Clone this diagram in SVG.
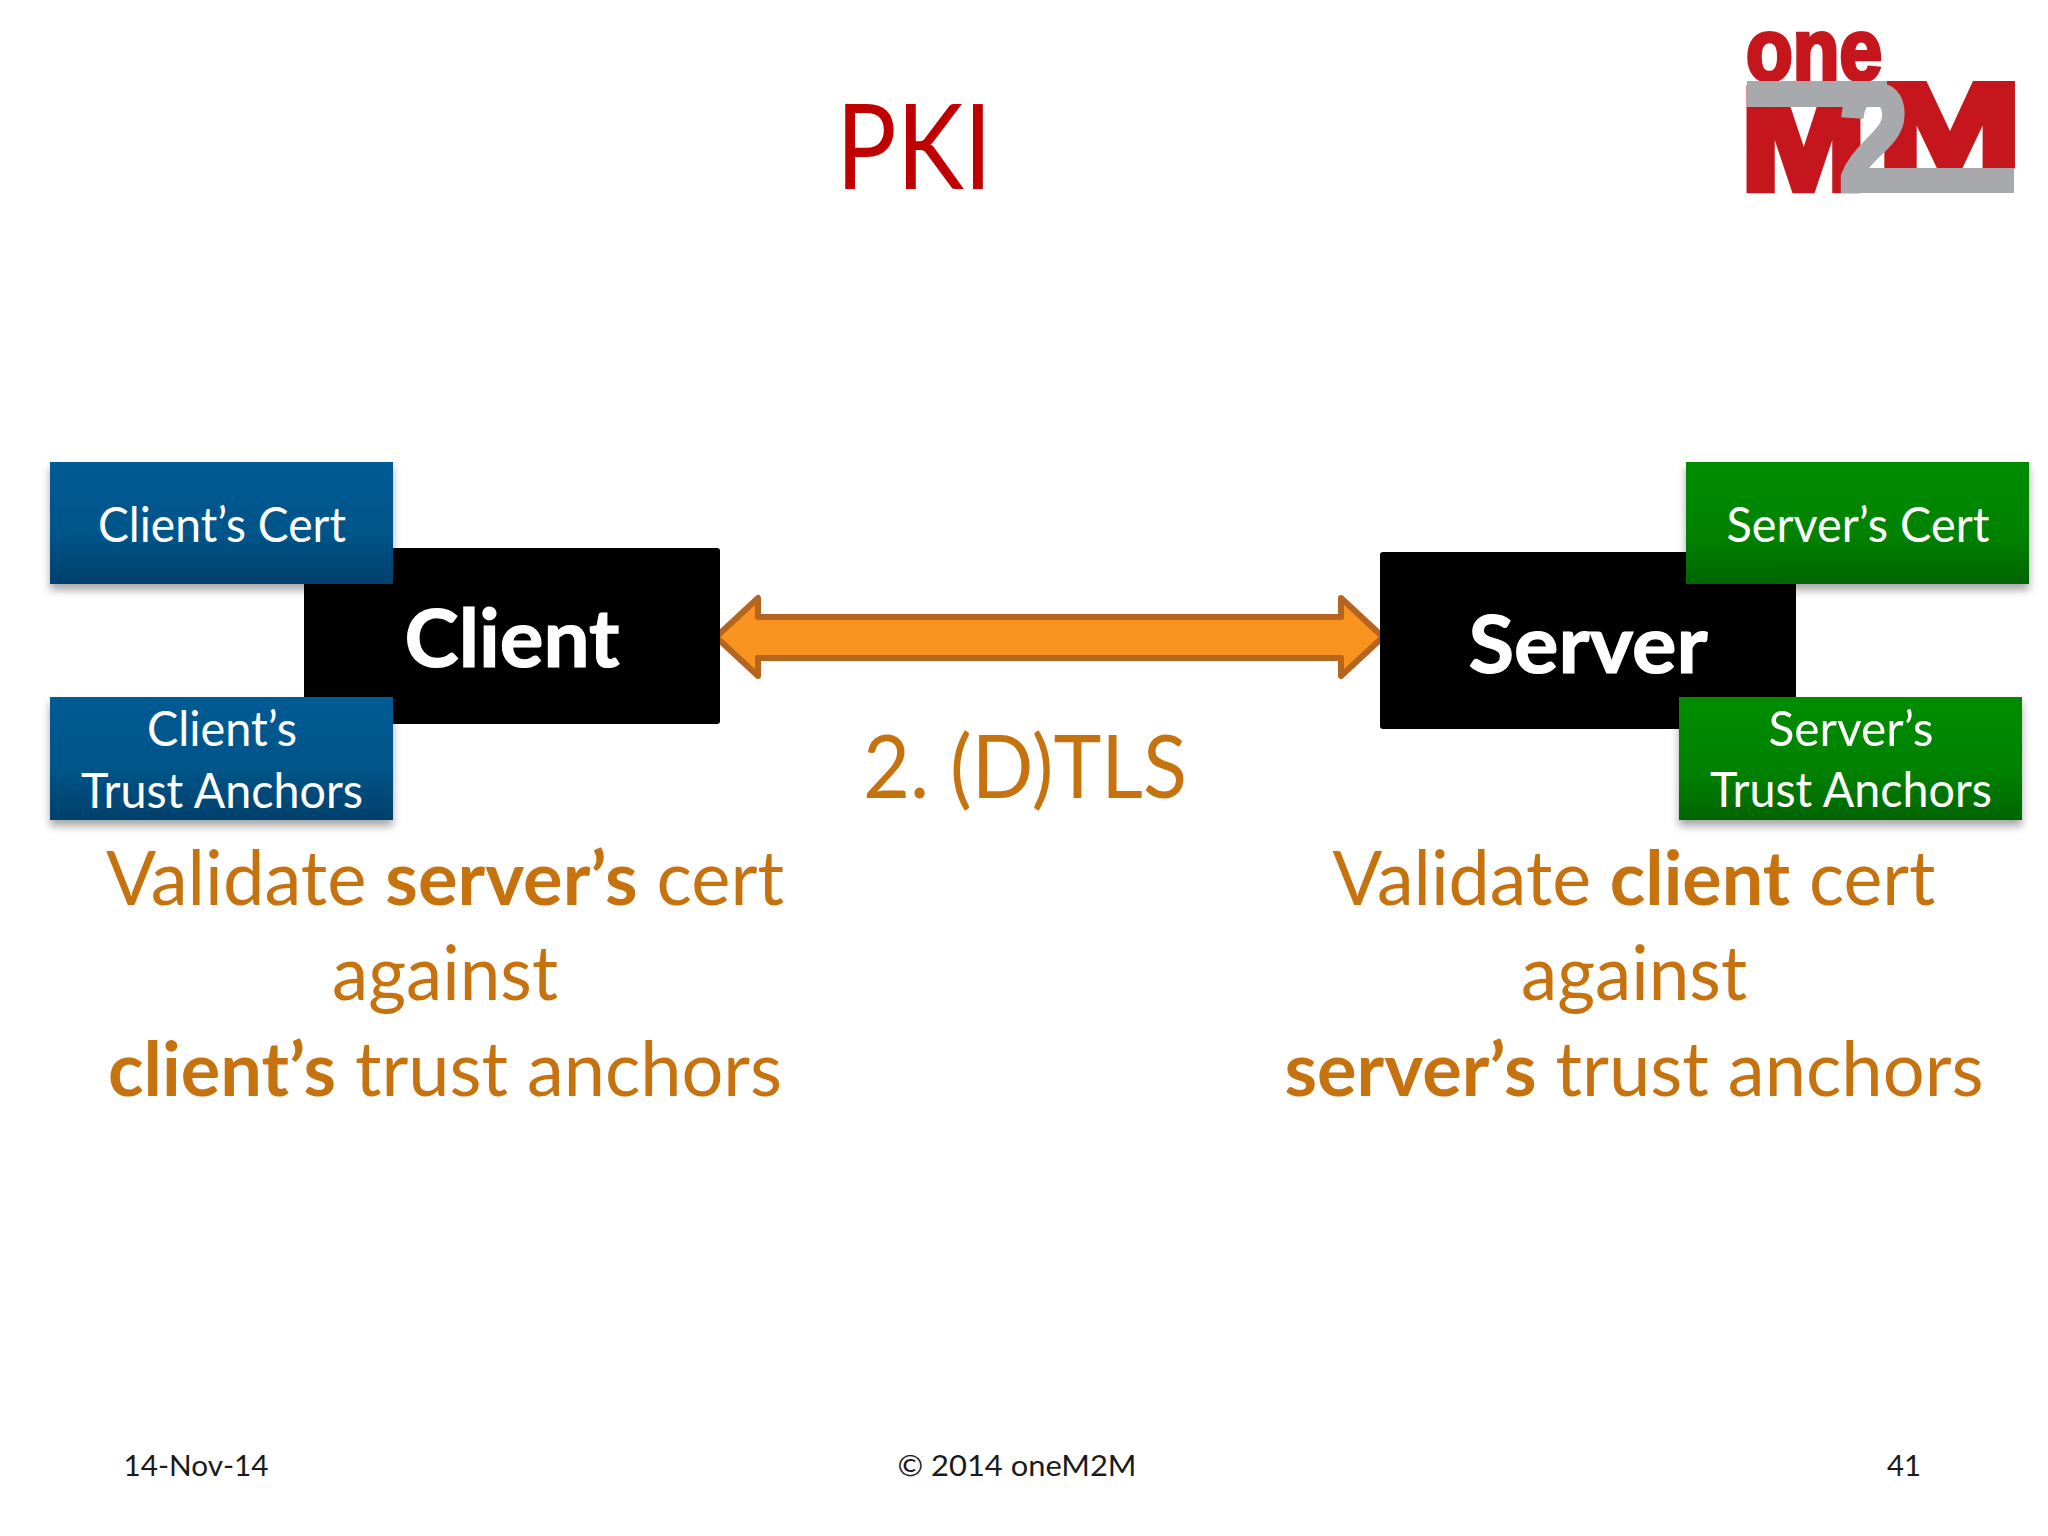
<svg xmlns="http://www.w3.org/2000/svg" width="2048" height="1536" viewBox="0 0 2048 1536">
<style>
text{font-family:"Lato","Carlito","Open Sans",sans-serif;text-anchor:middle}
.lbl{fill:#fff;font-size:49px}
.big{fill:#fff;font-size:80px;font-weight:700;stroke:#fff;stroke-width:1.2px}
.org{fill:#c6720f;font-size:75px}
.b{font-weight:700}
.foot{fill:#1a1a1a;font-size:29px}
.logo{font-family:"Liberation Sans",Arial,sans-serif;font-weight:700}
.box{stroke:none;filter:url(#sh)}
</style>
<defs>
<linearGradient id="blue" x1="0" y1="0" x2="0" y2="1"><stop offset="0" stop-color="#005b94"/><stop offset=".6" stop-color="#005488"/><stop offset="1" stop-color="#00406b"/></linearGradient>
<linearGradient id="green" x1="0" y1="0" x2="0" y2="1"><stop offset="0" stop-color="#008c06"/><stop offset=".6" stop-color="#008204"/><stop offset="1" stop-color="#006400"/></linearGradient>
<filter id="sh" x="-5%" y="-10%" width="110%" height="125%"><feDropShadow dx="0" dy="6" stdDeviation="4" flood-color="#000" flood-opacity=".35"/></filter>
</defs>
<rect width="2048" height="1536" fill="#fff"/>
<text id="title" x="914" y="189" font-size="118" fill="#c00000" textLength="156" lengthAdjust="spacingAndGlyphs">PKI</text>
<g id="logo">
<text class="logo" x="1814" y="80" font-size="88" fill="#c4161c" stroke="#c4161c" stroke-width="4" textLength="136" lengthAdjust="spacingAndGlyphs">one</text>
<text class="logo" font-size="100" fill="#c4161c" stroke="#c4161c" stroke-width="6" transform="translate(1741 188.7) scale(1.5 1.44)" style="text-anchor:start">M</text>
<text class="logo" font-size="100" fill="#c4161c" stroke="#c4161c" stroke-width="6" transform="translate(1878 164.5) scale(1.72 1.16)" style="text-anchor:start">M</text>
<rect x="1747" y="81" width="140" height="26" fill="#a7a9ac"/>
<rect x="1844" y="168" width="170" height="25" fill="#a7a9ac"/>
<text class="logo" font-size="100" fill="#a7a9ac" stroke="#a7a9ac" stroke-width="4" transform="translate(1839 190) scale(1.25 1.51)" style="text-anchor:start">2</text>
</g>
<g id="connectors">
<polygon points="716,637 758,598 758,617 1341,617 1341,598 1383,637 1341,676 1341,658 758,658 758,676" fill="#f7931e" stroke="#b5651d" stroke-width="6" stroke-linejoin="round"/>
</g>
<g id="client"><rect x="304" y="548" width="416" height="176" rx="3" fill="#000"/><text class="big" x="512" y="667" textLength="215" lengthAdjust="spacingAndGlyphs">Client</text></g>
<g id="server"><rect x="1380" y="552" width="416" height="177" rx="3" fill="#000"/><text class="big" x="1588" y="673" textLength="239" lengthAdjust="spacingAndGlyphs">Server</text></g>
<g id="client-cert"><rect class="box" x="50" y="462" width="343" height="122" fill="url(#blue)"/><text class="lbl" x="222" y="542" textLength="248" lengthAdjust="spacingAndGlyphs">Client’s Cert</text></g>
<g id="client-anchors"><rect class="box" x="50" y="697" width="343" height="123" fill="url(#blue)"/><text class="lbl" x="222" y="746" textLength="150" lengthAdjust="spacingAndGlyphs">Client’s</text><text class="lbl" x="222" y="808" textLength="282" lengthAdjust="spacingAndGlyphs">Trust Anchors</text></g>
<g id="server-cert"><rect class="box" x="1686" y="462" width="343" height="122" fill="url(#green)"/><text class="lbl" x="1858" y="542" textLength="263" lengthAdjust="spacingAndGlyphs">Server’s Cert</text></g>
<g id="server-anchors"><rect class="box" x="1679" y="697" width="343" height="123" fill="url(#green)"/><text class="lbl" x="1851" y="746" textLength="165" lengthAdjust="spacingAndGlyphs">Server’s</text><text class="lbl" x="1851" y="807" textLength="282" lengthAdjust="spacingAndGlyphs">Trust Anchors</text></g>
<text id="dtls" class="org" x="1025" y="798" style="font-size:87px" textLength="324" lengthAdjust="spacingAndGlyphs">2. (D)TLS</text>
<g id="client-note">
<text class="org" x="445" y="905" textLength="678" lengthAdjust="spacingAndGlyphs">Validate <tspan class="b">server’s</tspan> cert</text>
<text class="org" x="445" y="1000" textLength="226" lengthAdjust="spacingAndGlyphs">against</text>
<text class="org" x="445" y="1096" textLength="674" lengthAdjust="spacingAndGlyphs"><tspan class="b">client’s</tspan> trust anchors</text>
</g>
<g id="server-note">
<text class="org" x="1634" y="905" textLength="603" lengthAdjust="spacingAndGlyphs">Validate <tspan class="b">client</tspan> cert</text>
<text class="org" x="1634" y="1000" textLength="226" lengthAdjust="spacingAndGlyphs">against</text>
<text class="org" x="1634" y="1096" textLength="699" lengthAdjust="spacingAndGlyphs"><tspan class="b">server’s</tspan> trust anchors</text>
</g>
<g id="footer">
<text class="foot" x="196" y="1476" textLength="145" lengthAdjust="spacingAndGlyphs">14-Nov-14</text>
<text class="foot" x="1017" y="1476" textLength="239" lengthAdjust="spacingAndGlyphs">© 2014 oneM2M</text>
<text class="foot" x="1904" y="1476" textLength="34" lengthAdjust="spacingAndGlyphs">41</text>
</g>
</svg>
